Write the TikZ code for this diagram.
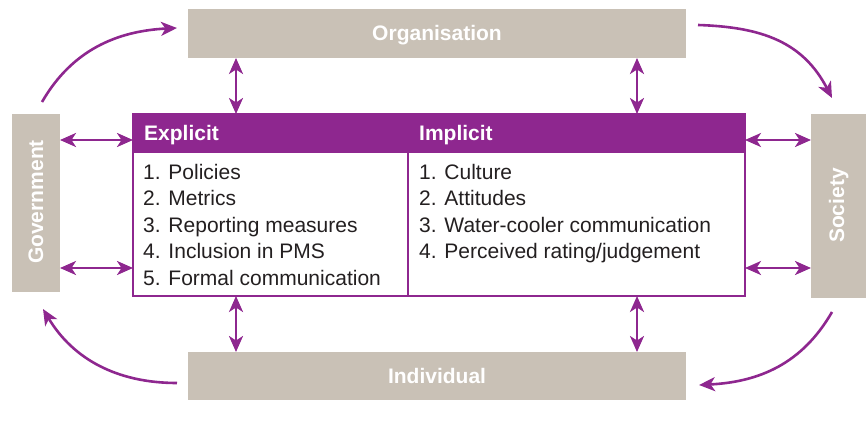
\documentclass[tikz,border=0pt]{standalone}
\usepackage{fontspec}
\setmainfont{Liberation Sans}
\usetikzlibrary{arrows.meta}
\definecolor{plum}{HTML}{8E278F}
\definecolor{sand}{HTML}{C9C1B6}
\definecolor{ink}{HTML}{231F20}

\begin{document}
\begin{tikzpicture}[x=1pt,y=-1pt,
  box/.style={fill=sand, inner sep=0pt, outer sep=0pt},
  boxlabel/.style={text=white, font=\fontsize{21}{25}\selectfont\bfseries, inner sep=0pt, anchor=base},
  item/.style={text=ink, font=\fontsize{21}{25}\selectfont, anchor=base west, inner sep=0pt},
  head/.style={text=white, font=\fontsize{21}{25}\selectfont\bfseries, anchor=base west, inner sep=0pt},
  tip/.tip={Stealth[length=16pt,width=14pt,inset=4.5pt]},
  link/.style={draw=plum, line width=2.6pt, tip-tip},
  flow/.style={draw=plum, line width=2.6pt, -tip}
]
\useasboundingbox (0,0) rectangle (867,436);

% outer actors
\node[box, minimum width=498pt, minimum height=49pt] (org) at (437,33.5) {};
\node[boxlabel] (orglabel) at (437,41) {Organisation};
\node[box, minimum width=498pt, minimum height=48pt] (ind) at (437,376) {};
\node[boxlabel] (indlabel) at (437,383.5) {Individual};
\node[box, minimum width=48pt, minimum height=178pt] (gov) at (36,203) {};
\node[boxlabel, rotate=90] (govlabel) at (43,202) {Government};
\node[box, minimum width=55pt, minimum height=184pt] (soc) at (838.5,206) {};
\node[boxlabel, rotate=90] (soclabel) at (844,205.5) {Society};

% central table
\node[draw=plum, line width=1.5pt, minimum width=612pt, minimum height=182pt,
      inner sep=0pt, outer sep=0pt] (tbl) at (439,205) {};
\node[fill=plum, minimum width=612pt, minimum height=39pt, inner sep=0pt, outer sep=0pt] (hdr) at (439,133.5) {};
\coordinate (div) at (408,0);
\draw[plum, line width=1.5pt] (hdr.south -| div) -- (tbl.south -| div);

\node[head] (explicit) at (144,140) {Explicit};
\node[head] (implicit) at (419,140) {Implicit};

\node[item] (e1) at (143,179) {1. Policies};
\node[item] (e2) at (143,205.5) {2. Metrics};
\node[item] (e3) at (143,232) {3. Reporting measures};
\node[item] (e4) at (143,258.5) {4. Inclusion in PMS};
\node[item] (e5) at (143,285) {5. Formal communication};

\node[item] (i1) at (419,179) {1. Culture};
\node[item] (i2) at (419,205.5) {2. Attitudes};
\node[item] (i3) at (419,232) {3. Water-cooler communication};
\node[item] (i4) at (419,258.5) {4. Perceived rating/judgement};

% two-way links between the table and the actors
\coordinate (cL) at (236,0);
\coordinate (cR) at (637,0);
\coordinate (rT) at (0,140);
\coordinate (rB) at (0,268);
\draw[link] (org.south -| cL) -- (tbl.north -| cL);
\draw[link] (org.south -| cR) -- (tbl.north -| cR);
\draw[link] (tbl.south -| cL) -- (ind.north -| cL);
\draw[link] (tbl.south -| cR) -- (ind.north -| cR);
\draw[link] (gov.east |- rT) -- (tbl.west |- rT);
\draw[link] (gov.east |- rB) -- (tbl.west |- rB);
\draw[link] (tbl.east |- rT) -- (soc.west |- rT);
\draw[link] (tbl.east |- rB) -- (soc.west |- rB);

% clockwise cycle around the actors
\coordinate (gTop) at (42,102);
\coordinate (oLeft) at (177,28);
\coordinate (oRight) at (698,25);
\coordinate (sTop) at (832,98);
\coordinate (sBot) at (832,312);
\coordinate (iRight) at (699,385);
\coordinate (iLeft) at (177,383);
\coordinate (gBot) at (43,309);
\draw[flow] (gTop) .. controls (72,50) and (117,31) .. (oLeft);
\draw[flow] (oRight) .. controls (762,27) and (803,42) .. (sTop);
\draw[flow] (sBot) .. controls (802,364) and (759,382) .. (iRight);
\draw[flow] (iLeft) .. controls (117,383) and (73,359) .. (gBot);
\end{tikzpicture}
\end{document}
